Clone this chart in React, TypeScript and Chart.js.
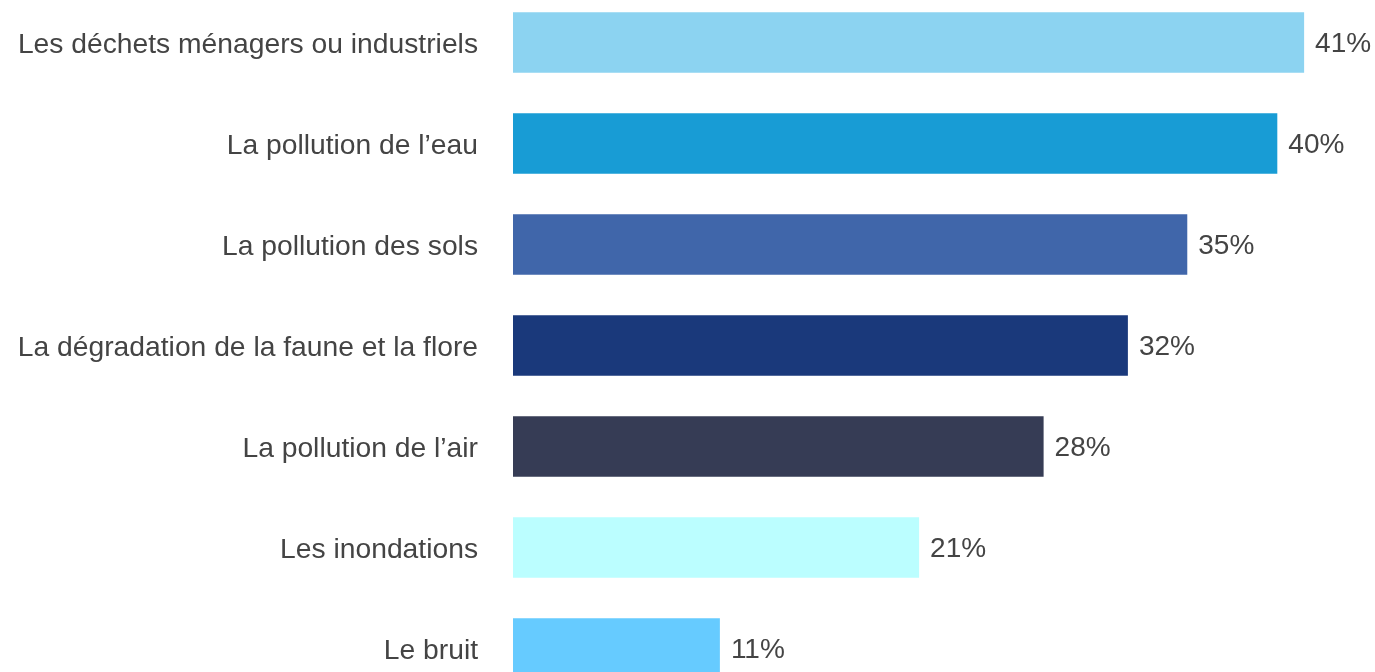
import React, { useEffect, useRef } from "react";
import { Chart, registerables } from "chart.js";

Chart.register(...registerables);

const categories = [
  "Les déchets ménagers ou industriels",
  "La pollution de l’eau",
  "La pollution des sols",
  "La dégradation de la faune et la flore",
  "La pollution de l’air",
  "Les inondations",
  "Le bruit",
];
const values = [41.3, 39.9, 35.2, 32.1, 27.7, 21.2, 10.8];
const valueLabels = ["41%", "40%", "35%", "32%", "28%", "21%", "11%"];
const barColors = ["#8CD3F1", "#189CD5", "#4066AA", "#1A397B", "#363C55", "#BBFEFF", "#66CBFF"];

const FONT = "'Liberation Sans', Arial, sans-serif";
const TEXT_COLOR = "#444444";

const valueLabelPlugin = {
  id: "valueLabels",
  afterDatasetsDraw(chart: any) {
    const ctx = chart.ctx;
    const meta = chart.getDatasetMeta(0);
    ctx.save();
    ctx.font = `28px ${FONT}`;
    ctx.fillStyle = TEXT_COLOR;
    ctx.textAlign = "left";
    ctx.textBaseline = "middle";
    meta.data.forEach((bar: any, i: number) => {
      ctx.fillText(valueLabels[i], bar.x + 11, bar.y + 2);
    });
    ctx.restore();
  },
};

export default function App() {
  const ref = useRef<HTMLCanvasElement>(null);
  useEffect(() => {
    if (!ref.current) return;
    const chart = new Chart(ref.current, {
      type: "bar",
      data: {
        labels: categories,
        datasets: [
          {
            data: values,
            backgroundColor: barColors,
            borderWidth: 0,
            barPercentage: 0.6,
            categoryPercentage: 1,
          },
        ],
      },
      options: {
        indexAxis: "y",
        animation: false,
        responsive: true,
        maintainAspectRatio: false,
        layout: { padding: 0 },
        plugins: {
          legend: { display: false },
          tooltip: { enabled: false },
        },
        scales: {
          x: {
            display: false,
            min: 0,
            max: 45,
          },
          y: {
            afterFit(scale: any) {
              scale.width = 513;
              scale.paddingTop = 0;
              scale.paddingBottom = 0;
            },
            grid: { display: false, drawTicks: false },
            border: { display: false },
            ticks: {
              padding: 35,
              labelOffset: 3,
              color: TEXT_COLOR,
              font: { size: 28.25, family: FONT },
            },
          },
        },
      },
      plugins: [valueLabelPlugin],
    });
    return () => chart.destroy();
  }, []);
  return (
    <div style={{ position: "fixed", left: 0, top: 0, width: 1375, height: 672, overflow: "hidden", background: "#fff" }}>
      <div style={{ position: "absolute", left: 0, top: -8, width: 1375, height: 707 }}>
        <canvas ref={ref} />
      </div>
    </div>
  );
}
